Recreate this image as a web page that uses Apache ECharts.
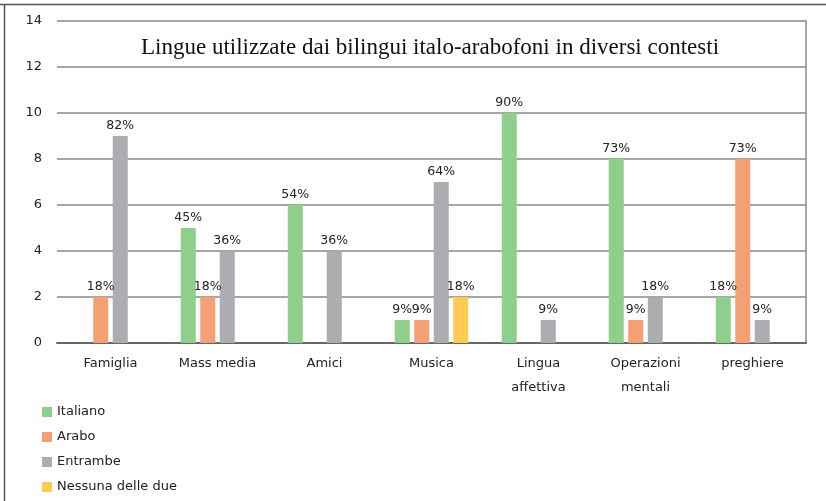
<!DOCTYPE html>
<html><head><meta charset="utf-8">
<script src="https://cdn.jsdelivr.net/npm/echarts@6/dist/echarts.min.js"></script>
<style>html,body{margin:0;padding:0;background:#fff}#c{width:826px;height:501px}</style>
</head><body><div id="c"></div>
<script>
const categories = ['Famiglia','Mass media','Amici','Musica','Lingua\naffettiva','Operazioni\nmentali','preghiere'];
const seriesNames = ['Italiano','Arabo','Entrambe','Nessuna delle due'];
const italiano = [null,5,6,1,10,8,2];
const arabo = [2,2,null,1,null,1,8];
const entrambe = [9,4,4,7,1,2,1];
const nessuna = [null,null,null,2,null,null,null];
const italianoPct = ['', '45%','54%','9%','90%','73%','18%'];
const araboPct = ['18%','18%','','9%','','9%','73%'];
const entrambePct = ['82%','36%','36%','64%','9%','18%','9%'];
const nessunaPct = ['','','','18%','','',''];
const yTicks = [0,2,4,6,8,10,12,14];
const colors = ['#8fcf8c','#f5a074','#acadb0','#ffcb52'];

const chart = echarts.init(document.getElementById('c'));
function mk(name, data, pct, color){
  return {name, type:'bar', data, barWidth:15, barGap:'30%', itemStyle:{color},
    label:{show:true, position:'top', distance:4, fontFamily:'DejaVu Sans', fontSize:12.5, color:'#222',
      formatter:p=>pct[p.dataIndex]}};
}
chart.setOption({
  animation:false,
  title:{text:'Lingue utilizzate dai bilingui italo-arabofoni in diversi contesti', left:425, top:31, textAlign:'center',
    textStyle:{fontFamily:'Liberation Serif', fontWeight:'normal', fontSize:23, color:'#111'}},
  grid:{left:57, right:20, top:21, bottom:158},
  legend:{orient:'vertical', left:42, top:405, padding:0, height:100, itemGap:11, itemWidth:10, itemHeight:10, icon:'rect',
    textStyle:{fontFamily:'DejaVu Sans', fontSize:13, color:'#222', lineHeight:14},
    data:seriesNames},
  xAxis:{type:'category', data:categories,
    axisLine:{lineStyle:{color:'#666', width:2}}, axisTick:{show:false},
    axisLabel:{fontFamily:'DejaVu Sans', fontSize:13, color:'#222', margin:9, lineHeight:24, interval:0}},
  yAxis:[{type:'value', min:0, max:14, interval:2,
    axisLine:{show:false}, axisTick:{show:false},
    axisLabel:{fontFamily:'DejaVu Sans', fontSize:13, color:'#222', margin:15, formatter:v=>yTicks.includes(v)?String(v):''},
    splitLine:{lineStyle:{color:'#888', width:1.5}}},
    {type:'value', min:0, max:14, interval:2, position:'right',
    axisLine:{show:true, lineStyle:{color:'#888', width:1.5}}, axisTick:{show:false}, axisLabel:{show:false}, splitLine:{show:false}}],
  series:[mk(seriesNames[0], italiano, italianoPct, colors[0]),
          mk(seriesNames[1], arabo, araboPct, colors[1]),
          mk(seriesNames[2], entrambe, entrambePct, colors[2]),
          mk(seriesNames[3], nessuna, nessunaPct, colors[3])],
  graphic:[
    {type:'line', shape:{x1:0,y1:4.5,x2:826,y2:4.5}, style:{stroke:'#555', lineWidth:1.5}},
    {type:'line', shape:{x1:4.5,y1:4,x2:4.5,y2:501}, style:{stroke:'#555', lineWidth:1.5}}
  ]
});
</script></body></html>
